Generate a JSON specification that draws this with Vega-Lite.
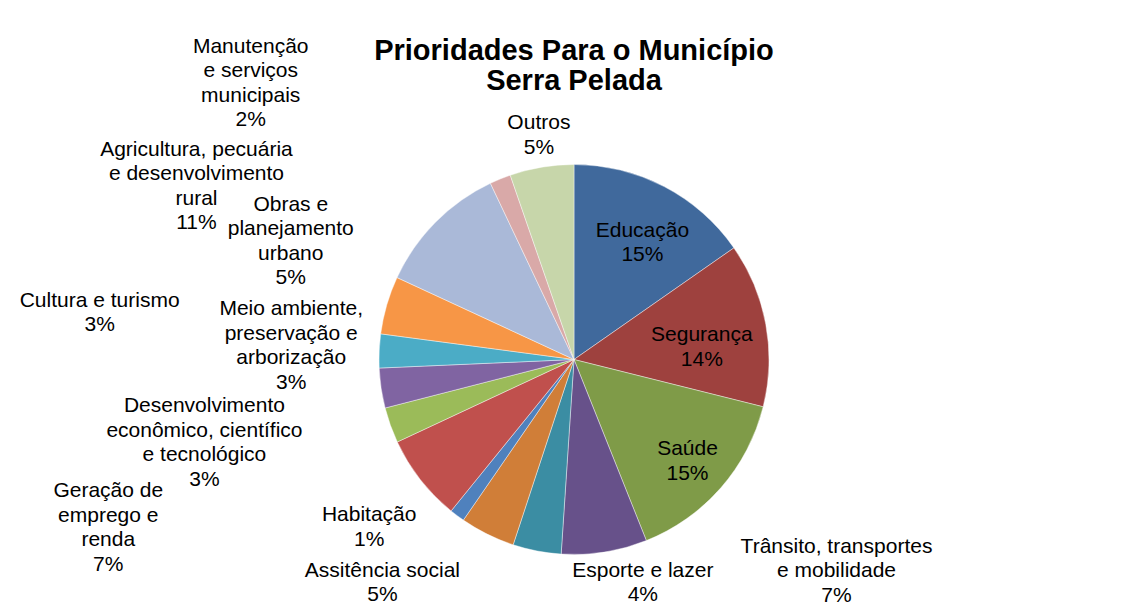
{
  "$schema": "https://vega.github.io/schema/vega-lite/v6.json",
  "width": 1110,
  "height": 499,
  "autosize": {"type": "none"},
  "padding": {"left": 19, "top": 110, "right": 0, "bottom": 0},
  "background": "#ffffff",
  "config": {"view": {"stroke": null}, "text": {"font": "Liberation Sans"}},
  "title": {
    "text": ["Prioridades Para o Município", "Serra Pelada"],
    "font": "Liberation Sans",
    "fontSize": 29,
    "fontWeight": "bold",
    "color": "#000000",
    "lineHeight": 30,
    "anchor": "middle",
    "offset": -23,
    "dy": 49
  },
  "data": {
    "values": [
      {"n": 1, "category": "Educação", "value": 15.3, "label": "Educação\n15%"},
      {"n": 2, "category": "Segurança", "value": 13.6, "label": "Segurança\n14%"},
      {"n": 3, "category": "Saúde", "value": 15.05, "label": "Saúde\n15%"},
      {"n": 4, "category": "Trânsito, transportes e mobilidade", "value": 7.1, "label": "Trânsito, transportes\ne mobilidade\n7%"},
      {"n": 5, "category": "Esporte e lazer", "value": 4.0, "label": "Esporte e lazer\n4%"},
      {"n": 6, "category": "Assitência social", "value": 4.55, "label": "Assitência social\n5%"},
      {"n": 7, "category": "Habitação", "value": 1.25, "label": "Habitação\n1%"},
      {"n": 8, "category": "Geração de emprego e renda", "value": 7.2, "label": "Geração de\nemprego e\nrenda\n7%"},
      {"n": 9, "category": "Desenvolvimento econômico, científico e tecnológico", "value": 2.95, "label": "Desenvolvimento\neconômico, científico\ne tecnológico\n3%"},
      {"n": 10, "category": "Cultura e turismo", "value": 3.3, "label": "Cultura e turismo\n3%"},
      {"n": 11, "category": "Meio ambiente, preservação e arborização", "value": 2.8, "label": "Meio ambiente,\npreservação e\narborização\n3%"},
      {"n": 12, "category": "Obras e planejamento urbano", "value": 4.8, "label": "Obras e\nplanejamento\nurbano\n5%"},
      {"n": 13, "category": "Agricultura, pecuária e desenvolvimento rural", "value": 11.05, "label": "Agricultura, pecuária\ne desenvolvimento\nrural\n11%"},
      {"n": 14, "category": "Manutenção e serviços municipais", "value": 1.75, "label": "Manutenção\ne serviços\nmunicipais\n2%"},
      {"n": 15, "category": "Outros", "value": 5.3, "label": "Outros\n5%"}
    ]
  },
  "encoding": {
    "theta": {"field": "value", "type": "quantitative", "stack": true},
    "order": {"field": "n", "type": "quantitative", "sort": "ascending"}
  },
  "layer": [
    {
      "mark": {"type": "arc", "outerRadius": 195, "stroke": "#ffffff", "strokeWidth": 0.6, "strokeOpacity": 0.7},
      "encoding": {
        "color": {
          "field": "category",
          "type": "nominal",
          "legend": null,
          "scale": {
            "domain": ["Educação", "Segurança", "Saúde", "Trânsito, transportes e mobilidade", "Esporte e lazer", "Assitência social", "Habitação", "Geração de emprego e renda", "Desenvolvimento econômico, científico e tecnológico", "Cultura e turismo", "Meio ambiente, preservação e arborização", "Obras e planejamento urbano", "Agricultura, pecuária e desenvolvimento rural", "Manutenção e serviços municipais", "Outros"],
            "range": ["#40699C", "#9E413E", "#7F9B48", "#67518A", "#3B8DA3", "#D07E38", "#4F81BD", "#C0504D", "#9BBB59", "#8064A2", "#4BACC6", "#F79646", "#AAB9D8", "#D9A9A8", "#C7D6AA"]
          }
        }
      }
    },
    {
      "mark": {"type": "text", "radius": 135, "dx": 6, "dy": -9.25, "fontSize": 21, "lineHeight": 24.5, "lineBreak": "\n", "align": "center", "baseline": "middle", "color": "#000000"},
      "encoding": {"text": {"condition": {"test": "datum.n === 1", "field": "label"}, "value": ""}}
    },
    {
      "mark": {"type": "text", "radius": 130, "dx": 0, "dy": -0.75, "fontSize": 21, "lineHeight": 24.5, "lineBreak": "\n", "align": "center", "baseline": "middle", "color": "#000000"},
      "encoding": {"text": {"condition": {"test": "datum.n === 2", "field": "label"}, "value": ""}}
    },
    {
      "mark": {"type": "text", "radius": 152, "dx": -1, "dy": -10.25, "fontSize": 21, "lineHeight": 24.5, "lineBreak": "\n", "align": "center", "baseline": "middle", "color": "#000000"},
      "encoding": {"text": {"condition": {"test": "datum.n === 3", "field": "label"}, "value": ""}}
    },
    {
      "mark": {"type": "text", "radius": 195, "dx": 232, "dy": -5.5, "fontSize": 21, "lineHeight": 24.5, "lineBreak": "\n", "align": "center", "baseline": "middle", "color": "#000000"},
      "encoding": {"text": {"condition": {"test": "datum.n === 4", "field": "label"}, "value": ""}}
    },
    {
      "mark": {"type": "text", "radius": 195, "dx": 106, "dy": 19.75, "fontSize": 21, "lineHeight": 24.5, "lineBreak": "\n", "align": "center", "baseline": "middle", "color": "#000000"},
      "encoding": {"text": {"condition": {"test": "datum.n === 5", "field": "label"}, "value": ""}}
    },
    {
      "mark": {"type": "text", "radius": 195, "dx": -105, "dy": 36.75, "fontSize": 21, "lineHeight": 24.5, "lineBreak": "\n", "align": "center", "baseline": "middle", "color": "#000000"},
      "encoding": {"text": {"condition": {"test": "datum.n === 6", "field": "label"}, "value": ""}}
    },
    {
      "mark": {"type": "text", "radius": 195, "dx": -88, "dy": -0.25, "fontSize": 21, "lineHeight": 24.5, "lineBreak": "\n", "align": "center", "baseline": "middle", "color": "#000000"},
      "encoding": {"text": {"condition": {"test": "datum.n === 7", "field": "label"}, "value": ""}}
    },
    {
      "mark": {"type": "text", "radius": 195, "dx": -312, "dy": 11.75, "fontSize": 21, "lineHeight": 24.5, "lineBreak": "\n", "align": "center", "baseline": "middle", "color": "#000000"},
      "encoding": {"text": {"condition": {"test": "datum.n === 8", "field": "label"}, "value": ""}}
    },
    {
      "mark": {"type": "text", "radius": 195, "dx": -186, "dy": -19.25, "fontSize": 21, "lineHeight": 24.5, "lineBreak": "\n", "align": "center", "baseline": "middle", "color": "#000000"},
      "encoding": {"text": {"condition": {"test": "datum.n === 9", "field": "label"}, "value": ""}}
    },
    {
      "mark": {"type": "text", "radius": 195, "dx": -281.5, "dy": -87.25, "fontSize": 21, "lineHeight": 24.5, "lineBreak": "\n", "align": "center", "baseline": "middle", "color": "#000000"},
      "encoding": {"text": {"condition": {"test": "datum.n === 10", "field": "label"}, "value": ""}}
    },
    {
      "mark": {"type": "text", "radius": 195, "dx": -88, "dy": -41.75, "fontSize": 21, "lineHeight": 24.5, "lineBreak": "\n", "align": "center", "baseline": "middle", "color": "#000000"},
      "encoding": {"text": {"condition": {"test": "datum.n === 11", "field": "label"}, "value": ""}}
    },
    {
      "mark": {"type": "text", "radius": 195, "dx": -96, "dy": -100.25, "fontSize": 21, "lineHeight": 24.5, "lineBreak": "\n", "align": "center", "baseline": "middle", "color": "#000000"},
      "encoding": {"text": {"condition": {"test": "datum.n === 12", "field": "label"}, "value": ""}}
    },
    {
      "mark": {"type": "text", "radius": 195, "dx": -239, "dy": -72.75, "fontSize": 21, "lineHeight": 24.5, "lineBreak": "\n", "align": "center", "baseline": "middle", "color": "#000000"},
      "encoding": {"text": {"condition": {"test": "datum.n === 13", "field": "label"}, "value": ""}}
    },
    {
      "mark": {"type": "text", "radius": 195, "dx": -249.5, "dy": -132.25, "fontSize": 21, "lineHeight": 24.5, "lineBreak": "\n", "align": "center", "baseline": "middle", "color": "#000000"},
      "encoding": {"text": {"condition": {"test": "datum.n === 14", "field": "label"}, "value": ""}}
    },
    {
      "mark": {"type": "text", "radius": 227, "dx": 2.5, "dy": -12.25, "fontSize": 21, "lineHeight": 24.5, "lineBreak": "\n", "align": "center", "baseline": "middle", "color": "#000000"},
      "encoding": {"text": {"condition": {"test": "datum.n === 15", "field": "label"}, "value": ""}}
    }
  ]
}
